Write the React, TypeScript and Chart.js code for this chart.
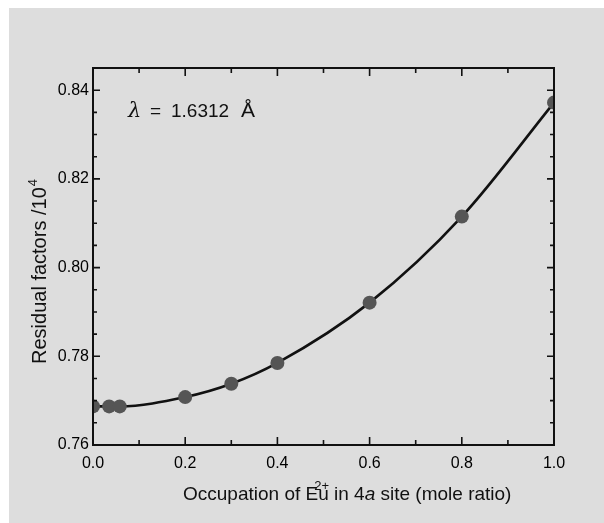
import { useEffect, useRef } from "react";
import { Chart, registerables } from "chart.js";

Chart.register(...registerables);

// Occupation of Eu2+ in the 4a site (mole ratio) and the residual factor at each one
const occupation = [0, 0.035, 0.058, 0.2, 0.3, 0.4, 0.6, 0.8, 1.0];
const residual = [0.7687, 0.7687, 0.7687, 0.7708, 0.7738, 0.7785, 0.7921, 0.8115, 0.8372];

// Labelled ticks and the spacing of the unlabelled ones
const xTickValues = [0, 0.2, 0.4, 0.6, 0.8, 1.0];
const yTickValues = [0.76, 0.78, 0.8, 0.82, 0.84];
const xMinorStep = 0.1;
const yMinorStep = 0.005;

const SANS = "'Liberation Sans', Arial, Helvetica, sans-serif";
const INK = "#111111";

const isMajor = (v: number, list: number[]) => list.some((t) => Math.abs(t - v) < 1e-6);

// Box frame with inward ticks on all four sides, plus the titles and the wavelength note
const framePlugin = {
  id: "frameAndTitles",
  afterDatasetsDraw(chart: any) {
    const { ctx, chartArea: a, scales } = chart;
    const xs = scales.x;
    const ys = scales.y;
    ctx.save();
    ctx.strokeStyle = INK;
    ctx.lineWidth = 2;
    ctx.strokeRect(a.left, a.top, a.right - a.left, a.bottom - a.top);

    ctx.lineWidth = 1.6;
    const nx = Math.round((xs.max - xs.min) / xMinorStep);
    for (let i = 0; i <= nx; i++) {
      const v = xs.min + i * xMinorStep;
      const px = xs.getPixelForValue(v);
      const len = isMajor(v, xTickValues) ? 8 : 5;
      ctx.beginPath();
      ctx.moveTo(px, a.bottom);
      ctx.lineTo(px, a.bottom - len);
      ctx.moveTo(px, a.top);
      ctx.lineTo(px, a.top + len);
      ctx.stroke();
    }
    const ny = Math.floor((ys.max - ys.min) / yMinorStep + 1e-6);
    for (let i = 0; i <= ny; i++) {
      const v = ys.min + i * yMinorStep;
      const py = ys.getPixelForValue(v);
      const len = isMajor(v, yTickValues) ? 7 : 4;
      ctx.beginPath();
      ctx.moveTo(a.left, py);
      ctx.lineTo(a.left + len, py);
      ctx.moveTo(a.right, py);
      ctx.lineTo(a.right - len, py);
      ctx.stroke();
    }
    ctx.restore();
  },
  afterDraw(chart: any) {
    const { ctx } = chart;
    ctx.save();
    ctx.fillStyle = INK;
    ctx.textBaseline = "alphabetic";

    // y-axis title, rotated
    ctx.save();
    ctx.translate(37, 264);
    ctx.rotate(-Math.PI / 2);
    const yMain = "Residual factors /10";
    ctx.font = `13px ${SANS}`;
    const supW = ctx.measureText("4").width;
    ctx.font = `20px ${SANS}`;
    const mainW = ctx.measureText(yMain).width;
    const startY = -(mainW + supW) / 2;
    ctx.textAlign = "left";
    ctx.fillText(yMain, startY, 0);
    ctx.font = `13px ${SANS}`;
    ctx.fillText("4", startY + mainW + 1, -9);
    ctx.restore();

    // x-axis title with superscript charge and italic site letter
    ctx.textAlign = "left";
    let x = 174;
    const base = 492;
    const put = (text: string, font: string) => {
      ctx.font = font;
      ctx.fillText(text, x, base);
      x += ctx.measureText(text).width;
    };
    put("Occupation of E", `19px ${SANS}`);
    const uStart = x;
    put("u", `19px ${SANS}`);
    ctx.font = `13px ${SANS}`;
    ctx.fillText("2+", uStart - 4, base - 10);
    put(" in 4", `19px ${SANS}`);
    put("a", `italic 19px ${SANS}`);
    put(" site (mole ratio)", `19px ${SANS}`);

    // wavelength note
    const nb = 109;
    ctx.font = `italic 21px 'DejaVu Serif', serif`;
    ctx.fillText("λ", 119, nb);
    ctx.font = `19px ${SANS}`;
    ctx.fillText("=", 141, nb);
    ctx.fillText("1.6312", 162, nb);
    ctx.font = `21px ${SANS}`;
    ctx.fillText("Å", 232, nb);

    ctx.restore();
  },
};

export default function App() {
  const canvasRef = useRef<HTMLCanvasElement | null>(null);

  useEffect(() => {
    if (!canvasRef.current) return;
    const chart = new Chart(canvasRef.current, {
      type: "line",
      data: {
        datasets: [
          {
            data: occupation.map((o, i) => ({ x: o, y: residual[i] })),
            borderColor: INK,
            borderWidth: 2.6,
            cubicInterpolationMode: "monotone",
            pointRadius: 7,
            pointBackgroundColor: "#555555",
            pointBorderColor: "#555555",
            pointBorderWidth: 0,
            clip: 0,
          },
        ],
      },
      options: {
        animation: false,
        responsive: false,
        devicePixelRatio: 1,
        layout: { padding: { left: 0, top: 60, right: 50, bottom: 0 } },
        plugins: { legend: { display: false }, tooltip: { enabled: false } },
        scales: {
          x: {
            type: "linear",
            min: 0,
            max: 1,
            grid: { display: false, drawTicks: false },
            border: { display: false },
            afterBuildTicks: (s: any) => {
              s.ticks = xTickValues.map((v) => ({ value: v }));
            },
            afterFit: (s: any) => {
              s.height = 78;
            },
            ticks: {
              padding: 9,
              color: "#000000",
              font: { family: SANS, size: 16 },
              callback: (v: any) => Number(v).toFixed(1),
            },
          },
          y: {
            type: "linear",
            min: 0.76,
            max: 0.845,
            grid: { display: false, drawTicks: false },
            border: { display: false },
            afterBuildTicks: (s: any) => {
              s.ticks = yTickValues.map((v) => ({ value: v }));
            },
            afterFit: (s: any) => {
              s.width = 84;
            },
            ticks: {
              padding: 4,
              color: "#000000",
              font: { family: SANS, size: 16 },
              callback: (v: any) => Number(v).toFixed(2),
            },
          },
        },
      } as any,
      plugins: [framePlugin],
    });
    return () => chart.destroy();
  }, []);

  return (
    <div
      style={{
        position: "absolute",
        left: 9,
        top: 8,
        width: 595,
        height: 515,
        background: "#dddddd",
      }}
    >
      <canvas ref={canvasRef} width={595} height={515} style={{ display: "block" }} />
    </div>
  );
}
